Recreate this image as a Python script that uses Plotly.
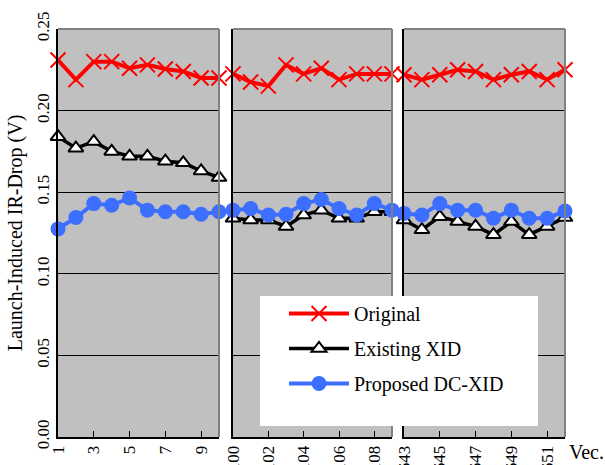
import plotly.graph_objects as go

# ---- data ----
vec1 = [1, 2, 3, 4, 5, 6, 7, 8, 9, 10]
vec2 = [100, 101, 102, 103, 104, 105, 106, 107, 108, 109]
vec3 = [643, 644, 645, 646, 647, 648, 649, 650, 651, 652]

original1 = [0.231, 0.219, 0.230, 0.230, 0.226, 0.228, 0.2255, 0.224, 0.220, 0.220]
original2 = [0.2225, 0.2175, 0.215, 0.228, 0.2225, 0.226, 0.219, 0.2225, 0.2225, 0.2225]
original3 = [0.222, 0.219, 0.222, 0.225, 0.224, 0.219, 0.222, 0.224, 0.219, 0.225]

existing1 = [0.184, 0.177, 0.181, 0.175, 0.172, 0.172, 0.169, 0.168, 0.163, 0.159]
existing2 = [0.134, 0.133, 0.133, 0.129, 0.136, 0.139, 0.134, 0.134, 0.138, 0.138]
existing3 = [0.133, 0.127, 0.135, 0.132, 0.129, 0.124, 0.132, 0.124, 0.129, 0.1345]

proposed1 = [0.1275, 0.1345, 0.143, 0.142, 0.1465, 0.139, 0.138, 0.138, 0.1365, 0.138]
proposed2 = [0.139, 0.140, 0.136, 0.1365, 0.143, 0.1455, 0.140, 0.136, 0.143, 0.139]
proposed3 = [0.137, 0.136, 0.143, 0.139, 0.139, 0.134, 0.139, 0.134, 0.134, 0.1385]

tick1 = [1, 3, 5, 7, 9]
tick2 = [100, 102, 104, 106, 108]
tick3 = [643, 645, 647, 649, 651]

series_names = ["Original", "Existing XID", "Proposed DC-XID"]

FONT = "Liberation Serif, Times New Roman, serif"
W, H = 605, 465

fig = go.Figure()

panels = [
    (vec1, original1, existing1, proposed1, "x", "y"),
    (vec2, original2, existing2, proposed2, "x2", "y2"),
    (vec3, original3, existing3, proposed3, "x3", "y3"),
]

for i, (xs, o, e, p, xa, ya) in enumerate(panels):
    show = i == 0
    fig.add_trace(go.Scatter(
        x=xs, y=o, xaxis=xa, yaxis=ya, name=series_names[0],
        legendgroup="g1", showlegend=show, mode="lines+markers", cliponaxis=False,
        line=dict(color="#FF0000", width=4),
        marker=dict(symbol="x-thin-open", size=15, line=dict(color="#FF0000", width=2)),
    ))
    fig.add_trace(go.Scatter(
        x=xs, y=e, xaxis=xa, yaxis=ya, name=series_names[1],
        legendgroup="g2", showlegend=show, mode="lines+markers", cliponaxis=False,
        line=dict(color="#000000", width=3.5),
        marker=dict(symbol="triangle-up", size=13, color="white",
                    line=dict(color="#000000", width=2)),
    ))
    fig.add_trace(go.Scatter(
        x=xs, y=p, xaxis=xa, yaxis=ya, name=series_names[2],
        legendgroup="g3", showlegend=show, mode="lines+markers", cliponaxis=False,
        line=dict(color="#3C6EFF", width=4),
        marker=dict(symbol="circle", size=15, color="#3C6EFF"),
    ))

ydom = [(H - 437) / H, (H - 29) / H]
xdoms = [[58 / W, 219 / W], [233 / W, 392 / W], [404 / W, 565 / W]]
ranges = [[1, 10], [100, 109], [643, 652]]
ticks = [tick1, tick2, tick3]

common_x = dict(showgrid=False, zeroline=False, showline=True, linecolor="black",
                linewidth=2, ticks="inside", ticklen=6, tickcolor="black",
                tickwidth=1, tickangle=-90, automargin=False,
                tickfont=dict(family=FONT, size=17, color="black"))
common_y = dict(range=[0, 0.25], dtick=0.05, tick0=0, showgrid=True, gridcolor="black",
                gridwidth=1, zeroline=False, showline=True, linecolor="black",
                linewidth=2, ticks="inside", ticklen=6, tickcolor="black",
                automargin=False, domain=ydom)

layout_axes = {}
for i in range(3):
    xa = "xaxis" if i == 0 else f"xaxis{i+1}"
    ya = "yaxis" if i == 0 else f"yaxis{i+1}"
    yref = "y" if i == 0 else f"y{i+1}"
    layout_axes[xa] = dict(common_x, domain=xdoms[i], range=ranges[i],
                           tickvals=ticks[i], anchor=yref)
    yopts = dict(common_y, anchor="x" if i == 0 else f"x{i+1}")
    if i == 0:
        yopts.update(showticklabels=True, tickformat=".2f", tickangle=-90,
                     tickfont=dict(family=FONT, size=17, color="black"),
                     title=dict(text="Launch-Induced IR-Drop (V)", standoff=6,
                                font=dict(family=FONT, size=20, color="black")))
    else:
        yopts.update(showticklabels=False, matches="y")
    layout_axes[ya] = yopts

fig.update_layout(**layout_axes)

shapes = []
for i in range(3):
    xr = "x domain" if i == 0 else f"x{i+1} domain"
    yr = "y domain" if i == 0 else f"y{i+1} domain"
    shapes.append(dict(type="line", xref=xr, yref=yr, x0=0, x1=1, y0=1, y1=1,
                       line=dict(color="#808080", width=2), layer="above"))
    shapes.append(dict(type="line", xref=xr, yref=yr, x0=1, x1=1, y0=0, y1=1,
                       line=dict(color="#808080", width=2), layer="above"))
shapes.append(dict(type="rect", xref="paper", yref="paper",
                   x0=260 / W, x1=538 / W, y0=(H - 426) / H, y1=(H - 296) / H,
                   fillcolor="white", line=dict(width=0), layer="above"))

fig.update_layout(
    width=W, height=H,
    margin=dict(l=0, r=0, t=0, b=0),
    paper_bgcolor="white", plot_bgcolor="#C0C0C0",
    font=dict(family=FONT, color="black"),
    shapes=shapes,
    showlegend=True,
    legend=dict(x=284 / W, y=(H - 294) / H, xanchor="left", yanchor="top",
                bgcolor="rgba(0,0,0,0)", borderwidth=0,
                font=dict(family=FONT, size=20, color="black"),
                itemwidth=60, tracegroupgap=6, traceorder="grouped"),
    annotations=[dict(text="Vec.", xref="paper", yref="paper", x=567 / W,
                      y=(H - 452) / H, xanchor="left", yanchor="middle",
                      showarrow=False, font=dict(family=FONT, size=20, color="black"))],
)

fig.write_html("out.html", config={"displayModeBar": False},
               post_script="document.body.style.margin='0px';document.body.style.overflow='hidden';")
